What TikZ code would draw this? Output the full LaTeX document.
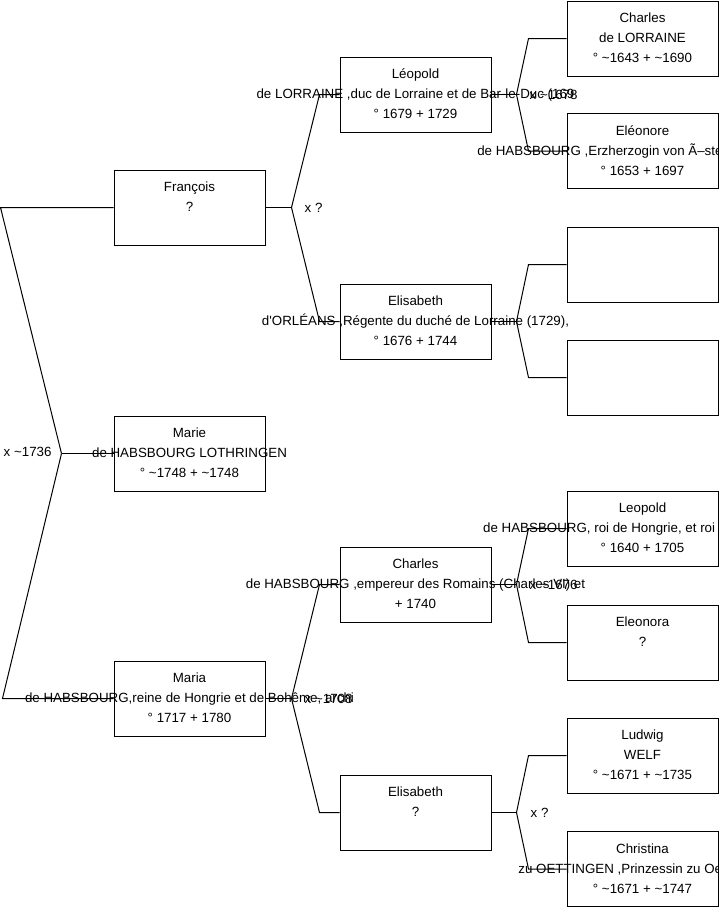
\documentclass[tikz,border=0pt]{standalone}
\usepackage{fontspec}
\setmainfont{Liberation Sans}
\newcommand\cl[1]{\makebox[0pt]{#1}}
\newcommand\pl[3]{\strut\cl{#1}\\\strut\cl{#2}\\\strut\cl{#3}}
\newcommand\tl{\textasciitilde}
\tikzset{
  person/.style={draw=black, line width=1pt, rectangle, minimum width=151pt, minimum height=75pt,
    inner sep=0pt, align=center, font=\fontsize{13.33}{20}\selectfont},
  link/.style={draw=black, line width=1pt},
  mlabel/.style={anchor=west, inner sep=0pt, font=\fontsize{13.33}{20}\selectfont}
}
\begin{document}
\begin{tikzpicture}[x=1pt,y=-1pt]
\useasboundingbox (0,0) rectangle (719,908);
\clip (0,0) rectangle (719,908);
% generation 1
\node[person] (fran) at (189.5,207.5) {\pl{François}{?}{}};
\node[person] (marie) at (189.5,453.5) {\pl{Marie}{de HABSBOURG LOTHRINGEN}{° \tl1748 + \tl1748}};
\node[person] (maria) at (189.5,698.5) {\pl{Maria}{de HABSBOURG,reine de Hongrie et de Bohême, archi}{° 1717 + 1780}};
% generation 2
\node[person] (leo) at (415.5,94.5) {\pl{Léopold}{de LORRAINE ,duc de Lorraine et de Bar-le-Duc (169}{° 1679 + 1729}};
\node[person] (elo) at (415.5,321.5) {\pl{Elisabeth}{d\textquotesingle ORLÉANS ,Régente du duché de Lorraine (1729),}{° 1676 + 1744}};
\node[person] (chh) at (415.5,584.5) {\pl{Charles}{de HABSBOURG ,empereur des Romains (Charles VI) et}{+ 1740}};
\node[person] (elq) at (415.5,812.5) {\pl{Elisabeth}{?}{}};
% generation 3
\node[person] (chl) at (642.5,38.5) {\pl{Charles}{de LORRAINE}{° \tl1643 + \tl1690}};
\node[person] (ele) at (642.5,151) {\pl{Eléonore}{de HABSBOURG ,Erzherzogin von Ã–sterreich, Königin}{° 1653 + 1697}};
\node[person] (e1) at (642.5,264.5) {};
\node[person] (e2) at (642.5,377.5) {};
\node[person] (leh) at (642.5,528.5) {\pl{Leopold}{de HABSBOURG, roi de Hongrie, et roi de Bohême, e}{° 1640 + 1705}};
\node[person] (eln) at (642.5,642.5) {\pl{Eleonora}{?}{}};
\node[person] (lud) at (642.5,755.5) {\pl{Ludwig}{WELF}{° \tl1671 + \tl1735}};
\node[person] (chr) at (642.5,869) {\pl{Christina}{zu OETTINGEN ,Prinzessin zu Oettingen-}{° \tl1671 + \tl1747}};
% fork points
\coordinate (v0) at ([xshift=-52pt]marie.west);
\coordinate (v1) at ([xshift=26pt]fran.east);
\coordinate (v2) at ([xshift=26pt]maria.east);
\coordinate (v3) at ([xshift=25pt]leo.east);
\coordinate (v4) at ([xshift=25pt]elo.east);
\coordinate (v5) at ([xshift=25pt]chh.east);
\coordinate (v6) at ([xshift=25pt]elq.east);
% connectors
\draw[link] (marie.west) -- (v0);
\draw[link] (v0) -- ([xshift=-113pt]fran.west) -- (fran.west);
\draw[link] (v0) -- ([xshift=-111pt]maria.west) -- (maria.west);
\draw[link] (fran.east) -- (v1);
\draw[link] (v1) -- ([xshift=-20pt]leo.west) -- (leo.west);
\draw[link] (v1) -- ([xshift=-20pt]elo.west) -- (elo.west);
\draw[link] (maria.east) -- (v2);
\draw[link] (v2) -- ([xshift=-20pt]chh.west) -- (chh.west);
\draw[link] (v2) -- ([xshift=-20pt]elq.west) -- (elq.west);
\draw[link] (leo.east) -- (v3);
\draw[link] (v3) -- ([xshift=-38pt]chl.west) -- (chl.west);
\draw[link] (v3) -- ([xshift=-38pt]ele.west) -- (ele.west);
\draw[link] (elo.east) -- (v4);
\draw[link] (v4) -- ([xshift=-38pt]e1.west) -- (e1.west);
\draw[link] (v4) -- ([xshift=-38pt]e2.west) -- (e2.west);
\draw[link] (chh.east) -- (v5);
\draw[link] (v5) -- ([xshift=-38pt]leh.west) -- (leh.west);
\draw[link] (v5) -- ([xshift=-38pt]eln.west) -- (eln.west);
\draw[link] (elq.east) -- (v6);
\draw[link] (v6) -- ([xshift=-38pt]lud.west) -- (lud.west);
\draw[link] (v6) -- ([xshift=-38pt]chr.west) -- (chr.west);
% marriage labels
\node[mlabel] (m0) at (3.5,452) {x \tl1736};
\node[mlabel] (m1) at ([xshift=13pt]v1) {x ?};
\node[mlabel] (m2) at ([xshift=13pt]v2) {x \tl1708};
\node[mlabel] (m3) at ([xshift=13pt]v3) {x \tl1678};
\node[mlabel] (m5) at ([xshift=13pt]v5) {x \tl1676};
\node[mlabel] (m6) at ([xshift=14pt]v6) {x ?};
\end{tikzpicture}
\end{document}
